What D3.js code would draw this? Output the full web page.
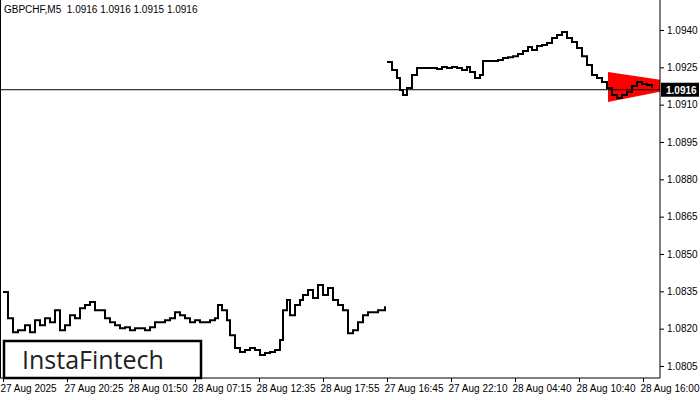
<!DOCTYPE html>
<html><head><meta charset="utf-8">
<script src="https://cdn.jsdelivr.net/npm/d3@7"></script>
<style>body{margin:0;background:#fff}svg{display:block}</style>
</head><body>
<script>
// price axis ticks and time labels
var priceTicks = [1.0805, 1.0820, 1.0835, 1.0850, 1.0865, 1.0880, 1.0895, 1.0910, 1.0925, 1.0940];
var timeLabels = ["27 Aug 2025", "27 Aug 20:25", "28 Aug 01:50", "28 Aug 07:15", "28 Aug 12:35",
  "28 Aug 17:55", "27 Aug 16:45", "27 Aug 22:10", "28 Aug 04:40", "28 Aug 10:40", "28 Aug 16:00"];
var timeIdx = [3, 67, 131, 195, 259, 323, 387, 451, 515, 579, 643];

// lower (older) segment: bar index, close
var lowIdx = [3,8,13,18,25,30,35,40,45,50,55,60,65,70,75,80,85,90,95,100,105,110,115,120,125,130,135,140,145,150,
  155,160,165,170,175,180,185,190,195,200,205,210,215,218,222,227,230,235,240,245,250,255,260,265,270,275,280,283,287,290,
  295,300,303,308,313,318,323,328,333,338,343,348,353,358,363,368,373,378,385];
var lowClose = [1.08347,1.08242,1.08186,1.08194,1.08214,1.08186,1.08234,1.08214,1.08242,1.08226,1.08274,1.08194,1.08214,1.08254,1.08242,1.08282,1.08295,1.08307,1.08274,1.08274,
  1.08242,1.08226,1.08214,1.08202,1.08206,1.08194,1.08202,1.08202,1.08194,1.08206,1.08226,1.08226,1.08234,1.08242,1.08266,1.08254,1.08242,1.08226,1.08234,1.08226,
  1.08226,1.08234,1.08242,1.08295,1.08274,1.08234,1.08174,1.08122,1.08106,1.08114,1.08122,1.08114,1.08094,1.08102,1.08106,1.08114,1.08154,1.08274,1.08315,1.08254,
  1.08295,1.08315,1.08335,1.08355,1.08323,1.08375,1.08335,1.08363,1.08315,1.08295,1.08274,1.08182,1.08194,1.08226,1.08254,1.08266,1.08266,1.08274,1.08290];

// upper (recent) segment
var highIdx = [387,392,397,400,403,407,412,417,422,427,432,437,442,447,452,457,462,467,470,475,480,483,488,493,498,503,508,513,518,523,
  528,532,537,542,547,552,557,562,567,572,577,582,587,592,597,602,607,612,617,622,627,632,637,642,647,652];
var highClose = [1.09271,1.09239,1.09207,1.09159,1.09139,1.09167,1.09219,1.09247,1.09247,1.09247,1.09247,1.09243,1.09251,1.09247,1.09251,1.09247,1.09239,1.09251,1.09231,1.09207,
  1.09219,1.09275,1.09275,1.09275,1.09279,1.09287,1.09291,1.09295,1.09304,1.09316,1.09332,1.09320,1.09336,1.09340,1.09348,1.09368,1.09380,1.09392,1.09368,1.09352,
  1.09328,1.09295,1.09259,1.09219,1.09207,1.09191,1.09167,1.09139,1.09127,1.09139,1.09151,1.09175,1.09191,1.09183,1.09179,1.09167];

var pennant = {start: 608, end: 695, top: 1.09231, bottom: 1.09111, apex: 1.09179};
var lastPrice = 1.0916;

var W = 700, H = 400, plotR = 660, plotB = 378;
var svg = d3.select("body").append("svg").attr("width", W).attr("height", H);
var x = d3.scaleLinear().domain([0, 660]).range([0, plotR]);
var y = d3.scaleLinear().domain([1.0805, 1.0940]).range([366, 30]);

svg.append("clipPath").attr("id","plot").append("rect").attr("x",0).attr("y",0).attr("width",plotR).attr("height",plotB);

svg.append("path").attr("clip-path","url(#plot)")
  .attr("d", "M" + x(pennant.start) + "," + y(pennant.top) + "L" + x(pennant.end) + "," + y(pennant.apex) +
    "L" + x(pennant.start) + "," + y(pennant.bottom) + "Z")
  .attr("fill", "#ff0000");

var line = d3.line().x(function(d){return x(d[0]);}).y(function(d){return y(d[1]);}).curve(d3.curveStepAfter);
function draw(idx, vals){
  svg.append("path").datum(idx.map(function(v,i){return [v, vals[i]];}))
    .attr("d", line).attr("fill","none").attr("stroke","#000").attr("stroke-width",2);
}
draw(lowIdx, lowClose);
draw(highIdx, highClose);

svg.append("line").attr("x1",0).attr("x2",plotR).attr("y1",y(lastPrice)).attr("y2",y(lastPrice))
  .attr("stroke","#000").attr("stroke-width",1);

// axes
var yAxis = d3.axisRight(y).tickValues(priceTicks).tickFormat(d3.format(".4f")).tickSize(4);
var ga = svg.append("g").attr("transform","translate(" + plotR + ",0)").call(yAxis);
ga.select(".domain").attr("d","M0,0V" + plotB);
ga.selectAll("text").attr("font-family","Arial, Liberation Sans").attr("font-size",10).attr("fill","#000");

var xAxis = d3.axisBottom(x).tickValues(timeIdx).tickFormat(function(d,i){return timeLabels[i];}).tickSize(4);
var gx = svg.append("g").attr("transform","translate(0," + plotB + ")").call(xAxis);
gx.select(".domain").attr("d","M0,0H" + plotR);
gx.selectAll("text").attr("text-anchor","start").attr("dx",-3).attr("font-family","Arial, Liberation Sans").attr("font-size",10).attr("fill","#000");
svg.append("line").attr("x1",0.5).attr("x2",0.5).attr("y1",0).attr("y2",plotB).attr("stroke","#000");

// last price label
svg.append("rect").attr("x",plotR+1).attr("y",y(lastPrice)-7).attr("width",38).attr("height",14).attr("fill","#000");
svg.append("text").attr("x",plotR+6).attr("y",y(lastPrice)+4).text(d3.format(".4f")(lastPrice))
  .attr("font-family","Arial, Liberation Sans").attr("font-size",10).attr("font-weight","bold").attr("fill","#fff");

svg.append("text").attr("x",4).attr("y",13).text("GBPCHF,M5  1.0916 1.0916 1.0915 1.0916")
  .attr("font-family","Arial, Liberation Sans").attr("font-size",10).attr("fill","#000").attr("xml:space","preserve");

// logo
svg.append("rect").attr("x",4).attr("y",341).attr("width",197).attr("height",37).attr("fill","#fff").attr("stroke","#000").attr("stroke-width",2.5);
svg.append("text").attr("x",22).attr("y",369).text("InstaFintech")
  .attr("font-family","Open Sans, Roboto").attr("font-size",25).attr("fill","#222");
</script>
</body></html>
